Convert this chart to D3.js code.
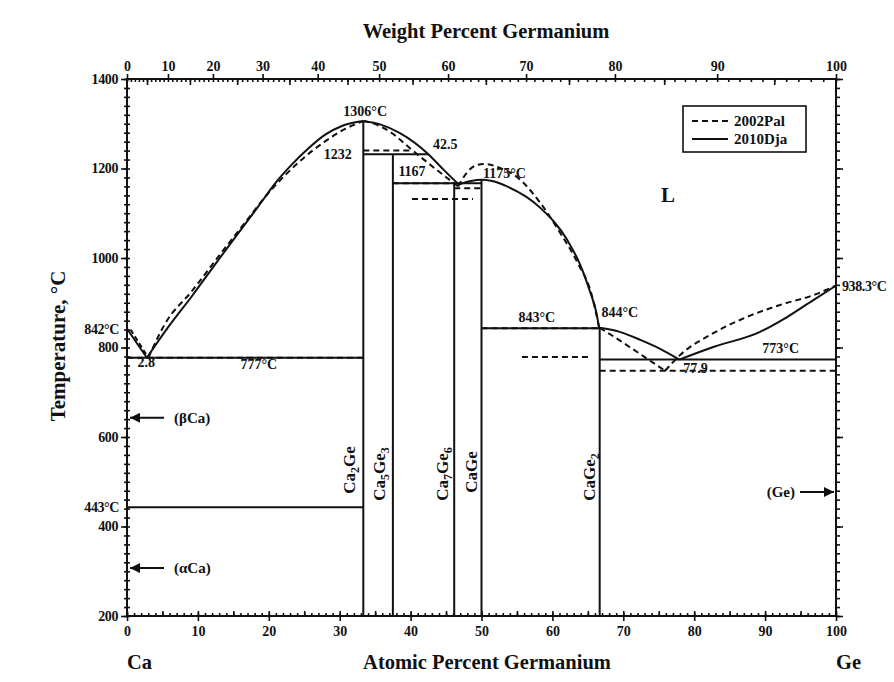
<!DOCTYPE html>
<html>
<head>
<meta charset="utf-8">
<script src="https://cdn.jsdelivr.net/npm/d3@7"></script>
<style>
  body { margin: 0; background: #fff; }
  svg text { font-family: "Liberation Serif", "Times New Roman", serif; font-weight: bold; fill: #111; }
  .axis path { display: none; }
  .axis line { stroke: #111; stroke-width: 1.6; }
</style>
</head>
<body>
<svg id="chart" width="894" height="682"></svg>
<script>
// Ca–Ge binary phase diagram (2002Pal dashed, 2010Dja solid)

// ---- axes ----
const atomicTicks = d3.range(0, 101, 10);
const tempTicks = d3.range(200, 1401, 200);
const weightTicks = d3.range(0, 101, 10);
const M_CA = 40.078, M_GE = 72.63;

// ---- 2010Dja (solid) liquidus branches: [at.% Ge, °C] ----
const djaCaSide     = [[0, 842], [2.8, 777]];
const djaCa2GeLeft  = [[2.8, 777], [5.83, 846], [9.12, 914], [12.9, 996], [16.2, 1066], [18.5, 1115], [20.9, 1167], [23.2, 1208], [25.6, 1245], [27.9, 1275], [30.3, 1295], [33.33, 1306]];
const djaCa2GeRight = [[33.33, 1306], [35.8, 1298], [38.5, 1279], [42.5, 1232], [44.6, 1198], [46.8, 1164]];
const djaCaGe       = [[46.8, 1164], [48.5, 1172], [50, 1175], [51.5, 1172], [53.6, 1160], [58.3, 1112], [62.1, 1040], [64.0, 982], [65.3, 925], [66.2, 878], [66.6, 843]];
const djaCaGe2Right = [[66.67, 844], [69.5, 835], [72.4, 817], [75.2, 797], [77.9, 773]];
const djaGeSide     = [[77.9, 773], [82.7, 801], [89.3, 835], [93.1, 868], [96.8, 906], [100, 938.3]];

// ---- 2002Pal (dashed) liquidus branches ----
const palCaSide     = [[0.5, 840], [3.0, 777]];
const palCa2GeLeft  = [[3.0, 777], [5.4, 854], [9.1, 925], [13.8, 1022], [16.6, 1078], [19.5, 1137], [22.3, 1185], [25.1, 1226], [27.9, 1260], [30.7, 1288], [33.33, 1306]];
const palCa2GeRight = [[33.33, 1306], [35.2, 1298], [37.1, 1282], [40.3, 1240], [43.2, 1203], [46.7, 1160]];
const palCaGe       = [[46.7, 1160], [48.0, 1192], [49.4, 1208], [50.5, 1210], [52.5, 1202], [55, 1181], [58.3, 1123], [61.1, 1056], [63.6, 988], [65.5, 920], [66.6, 844]];
const palCaGe2Right = [[66.67, 844], [68.6, 825], [70.9, 801], [75.9, 748]];
const palGeSide     = [[75.9, 748], [78, 783], [82.7, 832], [87.4, 868], [92.1, 895], [96.8, 917], [100, 938.3]];

// ---- invariant (horizontal) lines: [x1, x2, °C] ----
const djaIsotherms = [[0, 33.33, 777], [0, 33.33, 443], [33.33, 42.5, 1232], [37.5, 50, 1167], [50, 66.67, 843], [66.67, 100, 773]];
const palIsotherms = [[0, 33.33, 777], [33.33, 40.3, 1240], [37.5, 46.15, 1167], [40.2, 48.8, 1132], [46.15, 50, 1156], [50, 66.67, 843], [55.7, 65.3, 779], [66.67, 100, 748]];

// ---- compounds: composition (at.% Ge), upper end of line (°C), label parts ----
const compounds = [
  { x: 33.33, top: 1306, parts: [["Ca", 0], ["2", 1], ["Ge", 0]], lx: 355, ly: 470 },
  { x: 37.5,  top: 1232, parts: [["Ca", 0], ["5", 1], ["Ge", 0], ["3", 1]], lx: 385, ly: 474 },
  { x: 46.15, top: 1167, parts: [["Ca", 0], ["7", 1], ["Ge", 0], ["6", 1]], lx: 448, ly: 474 },
  { x: 50,    top: 1175, parts: [["CaGe", 0]], lx: 477, ly: 472 },
  { x: 66.67, top: 844,  parts: [["CaGe", 0], ["2", 1]], lx: 595, ly: 477 }
];

// ---- annotations: [text, at.% Ge, °C, anchor] ----
const annotations = [
  ["1306°C", 33.6, 1318, "middle"],
  ["1232", 31.7, 1222, "end"],
  ["42.5", 44.9, 1243, "middle"],
  ["1167", 40.2, 1183, "middle"],
  ["1175°C", 50.2, 1178, "start"],
  ["843°C", 57.8, 858, "middle"],
  ["844°C", 69.5, 868, "middle"],
  ["773°C", 92.2, 788, "middle"],
  ["77.9", 80.2, 743, "middle"],
  ["2.8", 2.7, 756, "middle"],
  ["777°C", 18.6, 752, "middle"],
  ["L", 76.3, 1125, "middle"]
];
const edgeLabels = [["842°C", 842, "end"], ["443°C", 443, "end"], ["938.3°C", 938.3, "start"]];
const phaseArrows = [["(βCa)", 643, "left"], ["(αCa)", 307, "left"], ["(Ge)", 477, "right"]];
const legendItems = [["2002Pal", "6,4"], ["2010Dja", null]];

// ---- layout ----
const svg = d3.select("#chart");
const x = d3.scaleLinear().domain([0, 100]).range([127, 836]);
const y = d3.scaleLinear().domain([200, 1400]).range([616, 79]);
const atFromWt = w => 100 * (w / M_GE) / (w / M_GE + (100 - w) / M_CA);

const ink = "#111";
const line = d3.line().x(d => x(d[0])).y(d => y(d[1])).curve(d3.curveMonotoneX);
const straight = d3.line().x(d => x(d[0])).y(d => y(d[1]));

const plot = svg.append("g");

// solid liquidus
[djaCa2GeLeft, djaCa2GeRight, djaCaGe, djaCaGe2Right, djaGeSide].forEach(s =>
  plot.append("path").attr("d", line(s)).attr("fill", "none").attr("stroke", ink).attr("stroke-width", 2));
plot.append("path").attr("d", straight(djaCaSide)).attr("fill", "none").attr("stroke", ink).attr("stroke-width", 2);

// dashed liquidus
[palCa2GeLeft, palCa2GeRight, palCaGe, palCaGe2Right, palGeSide].forEach(s =>
  plot.append("path").attr("d", line(s)).attr("fill", "none").attr("stroke", ink)
    .attr("stroke-width", 2).attr("stroke-dasharray", "6,4"));
plot.append("path").attr("d", straight(palCaSide)).attr("fill", "none").attr("stroke", ink)
  .attr("stroke-width", 2).attr("stroke-dasharray", "5,3");

// isotherms
plot.selectAll(".iso").data(djaIsotherms).join("line")
  .attr("x1", d => x(d[0])).attr("x2", d => x(d[1]))
  .attr("y1", d => y(d[2])).attr("y2", d => y(d[2]))
  .attr("stroke", ink).attr("stroke-width", 2);
plot.selectAll(".isoP").data(palIsotherms).join("line")
  .attr("x1", d => x(d[0])).attr("x2", d => x(d[1]))
  .attr("y1", d => y(d[2])).attr("y2", d => y(d[2]))
  .attr("stroke", ink).attr("stroke-width", 2).attr("stroke-dasharray", "6,4");

// compound lines
plot.selectAll(".cmp").data(compounds).join("line")
  .attr("x1", d => x(d.x)).attr("x2", d => x(d.x))
  .attr("y1", d => y(d.top)).attr("y2", y(200))
  .attr("stroke", ink).attr("stroke-width", 2);

// compound labels (rotated, with subscripts)
compounds.forEach(c => {
  const t = plot.append("text")
    .attr("transform", `translate(${c.lx},${c.ly}) rotate(-90)`)
    .attr("text-anchor", "middle").attr("font-size", 17);
  c.parts.forEach(([s, sub]) => {
    const ts = t.append("tspan").text(s);
    if (sub) ts.attr("font-size", 12).attr("dy", 4);
    else ts.attr("dy", t.selectAll("tspan").size() > 1 ? -4 : 0);
  });
});

// annotations
annotations.forEach(([s, a, T, anchor]) => {
  plot.append("text").attr("x", x(a)).attr("y", y(T)).attr("text-anchor", anchor)
    .attr("font-size", s === "L" ? 21 : 14).text(s);
});
edgeLabels.forEach(([s, T, anchor]) => {
  svg.append("text").attr("x", anchor === "end" ? x(0) - 8 : x(100) + 6).attr("y", y(T) + 5)
    .attr("text-anchor", anchor).attr("font-size", 14).attr("letter-spacing", -0.4).text(s);
});

// phase arrows
const defs = svg.append("defs");
defs.append("marker").attr("id", "ah").attr("viewBox", "0 0 10 10").attr("refX", 10).attr("refY", 5)
  .attr("markerWidth", 5).attr("markerHeight", 5).attr("orient", "auto")
  .append("path").attr("d", "M0,0L10,5L0,10z").attr("fill", ink);
phaseArrows.forEach(([s, T, side]) => {
  const yy = y(T);
  if (side === "left") {
    svg.append("line").attr("x1", x(0) + 37).attr("x2", x(0) + 3).attr("y1", yy).attr("y2", yy)
      .attr("stroke", ink).attr("stroke-width", 2).attr("marker-end", "url(#ah)");
    svg.append("text").attr("x", x(0) + 47).attr("y", yy + 5).attr("font-size", 15).text(s);
  } else {
    svg.append("line").attr("x1", x(100) - 36).attr("x2", x(100) - 2).attr("y1", yy).attr("y2", yy)
      .attr("stroke", ink).attr("stroke-width", 2).attr("marker-end", "url(#ah)");
    svg.append("text").attr("x", x(100) - 41).attr("y", yy + 5).attr("text-anchor", "end")
      .attr("font-size", 15).text(s);
  }
});

// frame
svg.append("rect").attr("x", x(0)).attr("y", y(1400)).attr("width", x(100) - x(0)).attr("height", y(200) - y(1400))
  .attr("fill", "none").attr("stroke", ink).attr("stroke-width", 2);

// bottom axis (atomic %)
const gB = svg.append("g").attr("class", "axis").attr("transform", `translate(0,${y(200)})`);
gB.call(d3.axisBottom(x).tickValues(atomicTicks).tickSize(5).tickPadding(5).tickFormat(d3.format("d")));
gB.selectAll("text").attr("font-size", 14).attr("fill", ink).attr("font-family", null);
svg.append("g").attr("class", "axis").attr("transform", `translate(0,${y(200)})`)
  .call(d3.axisBottom(x).tickValues(atomicTicks).tickSize(-5).tickFormat(""));
svg.append("g").attr("class", "axis").attr("transform", `translate(0,${y(200)})`)
  .call(d3.axisBottom(x).tickValues(d3.range(0, 101, 1)).tickSize(-3).tickFormat(""));
svg.append("g").attr("class", "axis").attr("transform", `translate(0,${y(200)})`)
  .call(d3.axisBottom(x).tickValues(d3.range(5, 100, 10)).tickSize(-5).tickFormat(""));

// top axis (weight %)
const gT = svg.append("g").attr("class", "axis").attr("transform", `translate(0,${y(1400)})`);
gT.call(d3.axisTop(x).tickValues(weightTicks.map(atFromWt)).tickSize(5).tickPadding(3)
  .tickFormat((d, i) => weightTicks[i]));
gT.selectAll("text").attr("font-size", 14).attr("fill", ink).attr("font-family", null);
svg.append("g").attr("class", "axis").attr("transform", `translate(0,${y(1400)})`)
  .call(d3.axisTop(x).tickValues(d3.range(0, 101, 1).map(atFromWt)).tickSize(-3).tickFormat(""));
svg.append("g").attr("class", "axis").attr("transform", `translate(0,${y(1400)})`)
  .call(d3.axisTop(x).tickValues(d3.range(5, 100, 10).map(atFromWt)).tickSize(-6).tickFormat(""));

// left axis (°C)
const gL = svg.append("g").attr("class", "axis").attr("transform", `translate(${x(0)},0)`);
gL.call(d3.axisLeft(y).tickValues(tempTicks).tickSize(6).tickPadding(3).tickFormat(d3.format("d")));
gL.selectAll("text").attr("font-size", 14).attr("fill", ink).attr("font-family", null).attr("letter-spacing", -0.4);
svg.append("g").attr("class", "axis").attr("transform", `translate(${x(0)},0)`)
  .call(d3.axisLeft(y).tickValues(d3.range(200, 1401, 20)).tickSize(3).tickFormat(""));
svg.append("g").attr("class", "axis").attr("transform", `translate(${x(0)},0)`)
  .call(d3.axisLeft(y).tickValues(d3.range(200, 1401, 20)).tickSize(-3).tickFormat(""));

// right axis (°C, unlabelled)
svg.append("g").attr("class", "axis").attr("transform", `translate(${x(100)},0)`)
  .call(d3.axisRight(y).tickValues(tempTicks).tickSize(7).tickFormat(""));
svg.append("g").attr("class", "axis").attr("transform", `translate(${x(100)},0)`)
  .call(d3.axisRight(y).tickValues(d3.range(200, 1401, 20)).tickSize(4).tickFormat(""));

// axis titles
svg.append("text").attr("x", 486).attr("y", 38).attr("text-anchor", "middle").attr("font-size", 20.5)
  .text("Weight Percent Germanium");
svg.append("text").attr("x", 487).attr("y", 669).attr("text-anchor", "middle").attr("font-size", 20.5)
  .text("Atomic Percent Germanium");
svg.append("text").attr("x", 127).attr("y", 669).attr("font-size", 20.5).text("Ca");
svg.append("text").attr("x", 836).attr("y", 669).attr("font-size", 20.5).text("Ge");
svg.append("text").attr("transform", "translate(65,346) rotate(-90)").attr("text-anchor", "middle")
  .attr("font-size", 21).text("Temperature, °C");

// legend
const lg = svg.append("g").attr("transform", "translate(683,106)");
lg.append("rect").attr("width", 123).attr("height", 46).attr("fill", "#fff").attr("stroke", ink).attr("stroke-width", 1.6);
legendItems.forEach(([name, dash], i) => {
  const yy = 15 + i * 18;
  lg.append("line").attr("x1", 9).attr("x2", 45).attr("y1", yy).attr("y2", yy)
    .attr("stroke", ink).attr("stroke-width", 2).attr("stroke-dasharray", dash);
  lg.append("text").attr("x", 51).attr("y", yy + 5).attr("font-size", 15).text(name);
});
</script>
</body>
</html>
